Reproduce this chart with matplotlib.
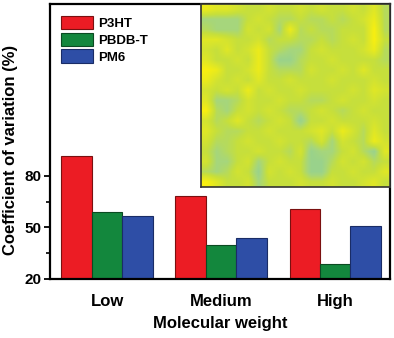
import matplotlib
matplotlib.use("Agg")
import matplotlib.pyplot as plt
import numpy as np
from matplotlib.colors import LinearSegmentedColormap

# bar data
groups = ["Low", "Medium", "High"]
series = ["P3HT", "PBDB-T", "PM6"]
p3ht = [91.5, 68.5, 61]
pbdbt = [59, 40, 29]
pm6 = [56.5, 44, 51]
colors = ["#ec1c24", "#13873d", "#2e4ea6"]
edges = ["#7a1010", "#0b4a22", "#1a2c66"]

# inset map (0 = teal, 10 = yellow), read by eye
heat_rows = [
    [9, 8, 8, 7, 6, 6, 7, 6, 6, 7, 6, 7, 6, 6, 7, 6, 8, 5],
    [4, 4, 4, 4, 6, 7, 6, 5, 5, 6, 5, 5, 6, 5, 6, 7, 9, 5],
    [5, 4, 4, 4, 7, 6, 7, 4, 9, 5, 6, 5, 5, 6, 6, 6, 10, 5],
    [8, 8, 7, 6, 6, 7, 5, 6, 6, 5, 5, 6, 5, 6, 7, 6, 10, 6],
    [7, 6, 8, 6, 7, 9, 6, 5, 4, 4, 6, 7, 6, 6, 6, 7, 9, 5],
    [8, 6, 6, 7, 6, 9, 6, 3, 3, 5, 6, 6, 7, 6, 6, 6, 6, 5],
    [10, 9, 6, 6, 7, 9, 6, 5, 5, 5, 7, 6, 6, 7, 6, 8, 6, 6],
    [9, 7, 6, 7, 6, 8, 6, 6, 7, 6, 6, 6, 7, 6, 6, 6, 7, 6],
    [7, 6, 7, 6, 9, 6, 7, 6, 6, 7, 6, 6, 6, 6, 7, 6, 8, 7],
    [8, 4, 4, 5, 7, 6, 6, 7, 6, 6, 5, 5, 6, 7, 6, 6, 7, 6],
    [10, 5, 4, 6, 7, 6, 7, 6, 5, 5, 6, 7, 6, 5, 6, 7, 6, 6],
    [7, 5, 6, 8, 6, 5, 6, 7, 6, 3, 6, 6, 7, 6, 6, 6, 7, 6],
    [8, 6, 5, 5, 6, 6, 7, 6, 6, 6, 7, 8, 6, 9, 7, 5, 8, 6],
    [7, 5, 5, 6, 7, 6, 6, 7, 6, 6, 5, 7, 4, 7, 6, 5, 9, 7],
    [6, 4, 5, 6, 6, 7, 6, 6, 5, 7, 3, 4, 4, 6, 7, 5, 3, 8],
    [7, 4, 4, 6, 7, 4, 6, 7, 6, 6, 3, 3, 5, 7, 6, 7, 5, 6],
    [5, 4, 5, 7, 6, 3, 7, 6, 7, 6, 3, 3, 6, 6, 7, 6, 6, 8],
    [10, 8, 6, 6, 7, 4, 6, 6, 6, 7, 6, 6, 7, 6, 6, 7, 8, 6],
]

plt.rcParams["font.family"] = ["Liberation Sans", "DejaVu Sans"]
plt.rcParams["font.weight"] = "bold"

W, H = 394, 338
fig = plt.figure(figsize=(W / 100, H / 100), dpi=100)
ax = fig.add_axes([50 / W, 1 - 279 / H, 340 / W, 275 / H])

x = np.arange(1, len(groups) + 1)
bw = 0.267
for i, (name, vals) in enumerate(zip(series, [p3ht, pbdbt, pm6])):
    ax.bar(x + (i - 1) * bw, np.array(vals) - 20, bw, bottom=20,
           color=colors[i], edgecolor=edges[i], linewidth=0.8, label=name)

ax.set_xlim(0.5, 3.48)
ax.set_ylim(20, 180)
ax.set_xticks(x)
ax.set_xticklabels(groups)
ax.set_yticks([20, 50, 80])
ax.set_yticks([35, 65], minor=True)
ax.tick_params(axis="x", length=0, pad=11, labelsize=12)
ax.tick_params(axis="y", which="major", direction="out", length=4, width=1.3, labelsize=11, pad=2)
ax.tick_params(axis="y", which="minor", direction="out", length=3, width=1.2)
for s in ax.spines.values():
    s.set_linewidth(1.6)

ax.set_ylabel("Coefficient of variation (%)", fontsize=12, fontweight="bold")
ax.yaxis.set_label_coords(-0.093, 0.469)
ax.set_xlabel("Molecular weight", fontsize=12, fontweight="bold", labelpad=5)

ax.legend(loc="upper left", bbox_to_anchor=(11 / 340, 1 - 12 / 275), frameon=False,
          borderpad=0, borderaxespad=0, handlelength=2.42, handleheight=1.17,
          labelspacing=0.2, handletextpad=0.4,
          prop={"size": 9.5, "weight": "bold"})

# inset map
cmap = LinearSegmentedColormap.from_list(
    "tealyellow", [(0, "#74c8b8"), (0.4, "#a6d67c"), (0.6, "#c6df3c"), (1, "#f8ef10")])
ins = fig.add_axes([201 / W, 1 - 187 / H, 189 / W, 183 / H])
ins.imshow(np.array(heat_rows) / 10.0, cmap=cmap, vmin=0, vmax=1,
           aspect="auto", interpolation="bilinear")
ins.set_xticks([])
ins.set_yticks([])
for s in ins.spines.values():
    s.set_linewidth(1.2)
    s.set_color("#333333")

fig.savefig("out.png", dpi=100)
